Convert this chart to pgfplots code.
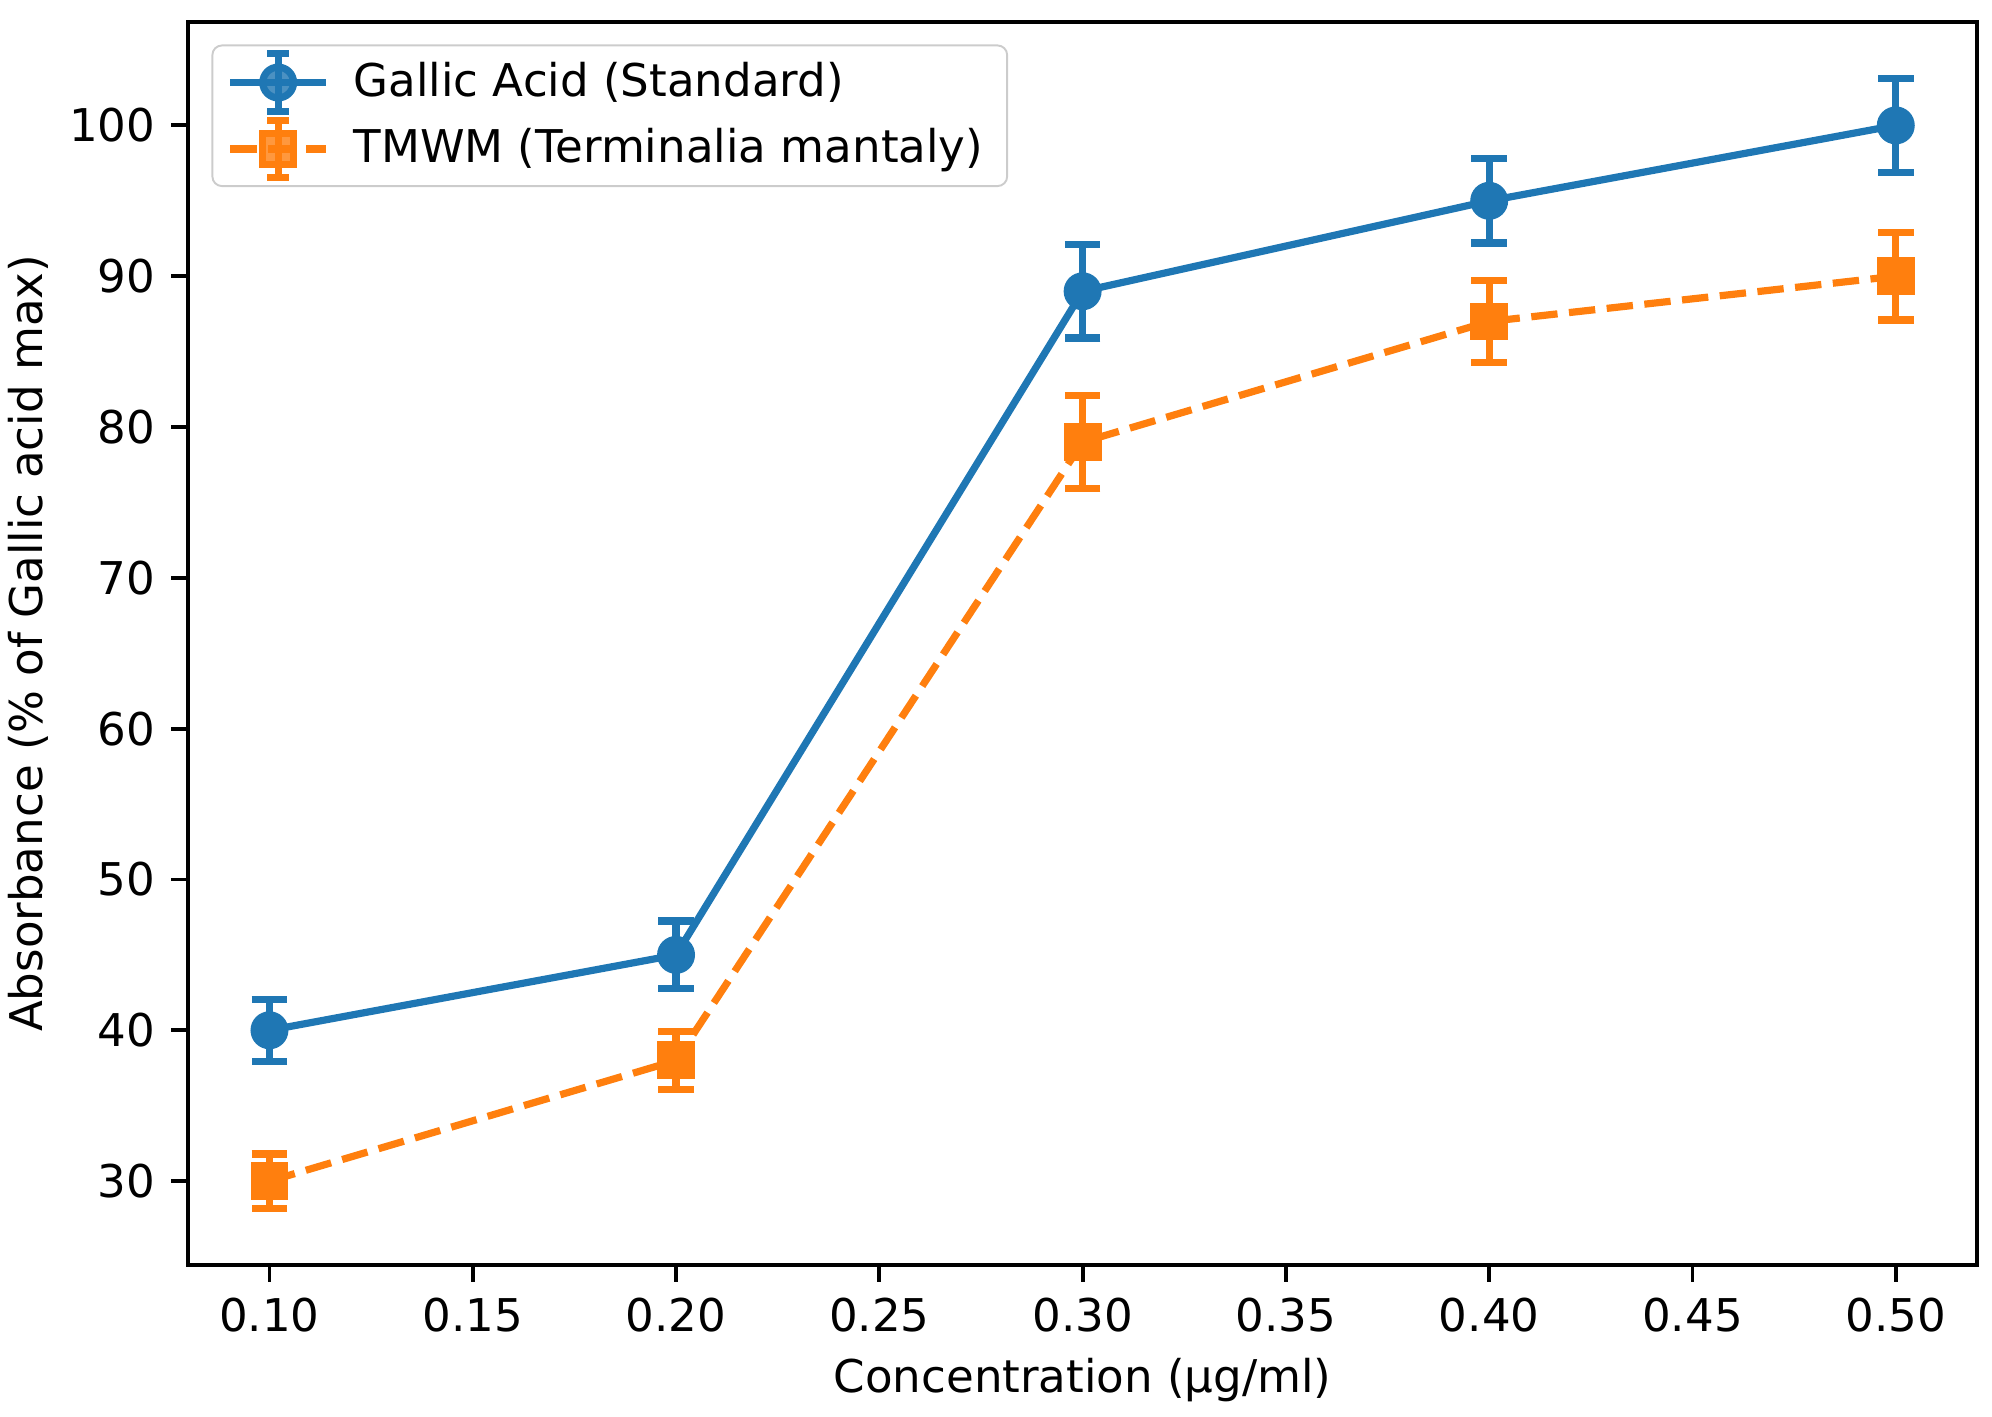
\documentclass[border=0pt]{standalone}
\usepackage{fontspec}
\setmainfont{DejaVu Sans}
\usepackage{pgfplots}
\pgfplotsset{compat=1.18}
\definecolor{tabblue}{HTML}{1F77B4}
\definecolor{taborange}{HTML}{FF7F0E}
\pgfplotsset{
  errlegend/.style={
    legend image code/.code={
      \draw[solid] (0.35cm,-0.21cm) -- (0.35cm,0.21cm);
      \draw[solid] (0.27cm,-0.21cm) -- (0.43cm,-0.21cm);
      \draw[solid] (0.27cm,0.21cm) -- (0.43cm,0.21cm);
      \draw[mark repeat=2,mark phase=2] plot coordinates {(0cm,0cm) (0.35cm,0cm) (0.7cm,0cm)};
    }
  }
}
\newcommand{\fs}{\fontsize{9.4pt}{11.3pt}\selectfont}
\begin{document}
\fs
\begin{tikzpicture}
\path[use as bounding box] (-39.2pt,-31.5pt) rectangle (375.8pt,263.5pt);
\begin{axis}[
  at={(0,0)}, anchor=south west,
  scale only axis, width=372.7pt, height=258.9pt,
  xmin=0.08, xmax=0.52, ymin=24.45, ymax=106.85,
  xtick={0.10,0.15,0.20,0.25,0.30,0.35,0.40,0.45,0.50},
  ytick={30,40,50,60,70,80,90,100},
  xticklabel style={/pgf/number format/.cd, fixed, fixed zerofill, precision=2},
  /pgf/number format/assume math mode=true,
  tick align=outside, xtick pos=bottom, ytick pos=left,
  major tick length=3.5pt,
  every tick/.style={black, line width=0.8pt},
  axis line style={line width=0.8pt},
  tick label style={font=\fs},
  xlabel={Concentration (µg/ml)},
  ylabel={Absorbance (\% of Gallic acid max)},
  xlabel style={at={(axis description cs:0.5,-0.0929)}, anchor=center},
  ylabel style={at={(axis description cs:-0.0896,0.5)}, anchor=center},
  label style={font=\fs},
  legend cell align=left,
  legend style={at={(axis description cs:0.013,0.982)}, anchor=north west,
    draw=black!20, rounded corners=2pt, fill=white, fill opacity=0.8, text opacity=1,
    font=\fs, inner xsep=3pt, inner ysep=1pt,
    row sep=0.4pt,
    /tikz/every odd column/.append style={column sep=3pt}},
]
\addplot+[tabblue, line width=1.5pt, solid, mark=*, mark size=3.2pt,
  mark options={fill=tabblue, draw=tabblue, solid},
  errlegend,
  error bars/.cd, y dir=both, y explicit,
  error bar style={line width=1.5pt, tabblue, solid},
  error mark options={line width=1.5pt, tabblue, mark size=3.7pt, rotate=90}]
  coordinates {
  (0.10,40) +- (0,2.05)
  (0.20,45) +- (0,2.25)
  (0.30,89) +- (0,3.1)
  (0.40,95) +- (0,2.8)
  (0.50,100) +- (0,3.1)
  };
\addlegendentry{Gallic Acid (Standard)}
\addplot+[taborange, line width=1.5pt, dash pattern=on 5.5pt off 2.4pt, mark=square*, mark size=3.2pt,
  mark options={fill=taborange, draw=taborange, solid},
  errlegend,
  error bars/.cd, y dir=both, y explicit,
  error bar style={line width=1.5pt, taborange, solid},
  error mark options={line width=1.5pt, taborange, mark size=3.7pt, rotate=90}]
  coordinates {
  (0.10,30) +- (0,1.8)
  (0.20,38) +- (0,1.9)
  (0.30,79) +- (0,3.1)
  (0.40,87) +- (0,2.7)
  (0.50,90) +- (0,2.9)
  };
\addlegendentry{TMWM (Terminalia mantaly)}
\end{axis}
\end{tikzpicture}
\end{document}
